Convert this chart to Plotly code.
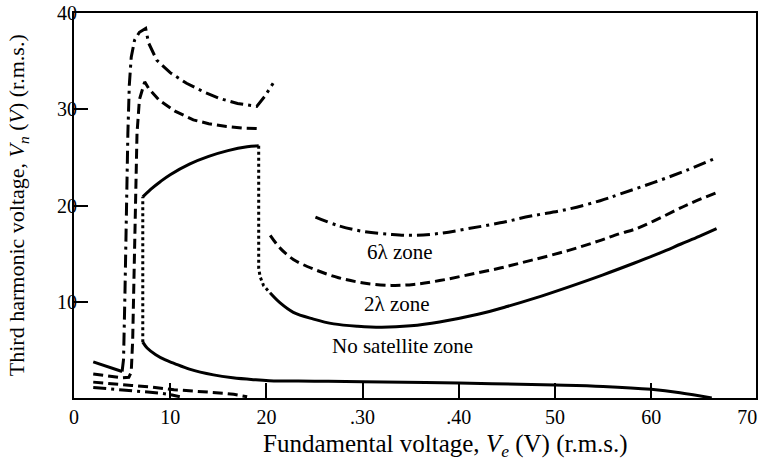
import plotly.graph_objects as go

# ---- data ----
# solid short line before the jump
pre_x = [2.0, 5.0]
pre_y = [3.75, 2.75]

# 6 lambda zone, left branch (dash-dot)
dd_left_x = [5.0, 5.15, 5.3, 5.45, 5.6, 5.75, 5.95, 6.3, 6.8, 7.45, 7.75, 8.6, 10.0, 11.7, 13.5, 15.2, 17.0, 19.0, 19.8, 20.7]
dd_left_y = [2.75, 4.0, 11.0, 20.0, 27.5, 32.5, 35.4, 37.2, 38.0, 38.4, 36.9, 35.1, 33.8, 32.7, 31.8, 31.1, 30.6, 30.3, 31.3, 32.7]

# 2 lambda zone, left branch (dashed)
da_left_x = [2.0, 3.5, 5.0, 5.7, 5.95, 6.1, 6.25, 6.4, 6.55, 6.8, 7.35, 7.8, 8.9, 10.5, 12.4, 14.0, 15.85, 17.5, 19.0]
da_left_y = [2.5, 2.3, 2.1, 2.15, 2.7, 6.0, 14.0, 22.0, 27.5, 31.0, 32.85, 32.1, 30.9, 29.8, 28.9, 28.5, 28.2, 28.05, 28.0]

# dotted connector at the first jump
dot1_x = [7.15, 7.15]
dot1_y = [5.8, 20.9]

# upper solid branch
su_x = [7.15, 8.0, 9.0, 10.0, 12.0, 14.0, 16.0, 18.0, 19.2]
su_y = [20.9, 21.7, 22.5, 23.2, 24.3, 25.1, 25.7, 26.1, 26.2]

# dotted connector at the second jump
dot2_x = [19.2, 19.2, 19.35, 19.7, 20.4]
dot2_y = [26.2, 13.5, 12.6, 11.7, 10.9]

# no-satellite boundary (solid, right)
sr_x = [20.4, 21.4, 22.8, 24.9, 27.0, 29.5, 32.0, 35.0, 38.0, 42.0, 45.0, 48.0, 51.3, 55.0, 58.2, 61.0, 63.1, 65.0, 66.8]
sr_y = [10.9, 9.9, 8.9, 8.2, 7.7, 7.45, 7.35, 7.5, 7.9, 8.7, 9.5, 10.4, 11.5, 12.8, 14.0, 15.1, 16.0, 16.8, 17.6]

# 2 lambda boundary (dashed, right)
dr_x = [20.4, 21.4, 22.8, 24.9, 27.5, 30.1, 33.0, 35.3, 38.0, 41.0, 44.3, 47.5, 51.3, 54.5, 56.8, 58.2, 60.3, 63.8, 66.7]
dr_y = [16.9, 15.6, 14.4, 13.4, 12.5, 11.95, 11.7, 11.8, 12.2, 12.8, 13.5, 14.3, 15.3, 16.3, 17.1, 17.5, 18.4, 20.1, 21.3]

# 6 lambda boundary (dash-dot, right)
ddr_x = [25.1, 27.5, 30.1, 33.0, 35.3, 38.0, 41.0, 44.3, 47.5, 51.3, 54.7, 56.8, 60.3, 63.8, 66.9]
ddr_y = [18.8, 17.9, 17.3, 17.0, 16.9, 17.1, 17.6, 18.2, 18.9, 19.6, 20.5, 21.2, 22.4, 23.7, 25.0]

# lower solid curve
sl_x = [7.15, 7.6, 8.5, 9.5, 10.4, 12.0, 14.5, 16.5, 18.7, 20.3, 25.0, 30.0, 40.0, 50.0, 55.0, 60.0, 63.0, 66.3]
sl_y = [5.8, 5.2, 4.5, 3.95, 3.6, 3.0, 2.4, 2.1, 1.9, 1.8, 1.75, 1.7, 1.55, 1.35, 1.2, 0.9, 0.55, 0.0]

# lower dashed curve
dl_x = [2.0, 4.0, 6.0, 8.0, 10.4, 12.0, 13.8, 15.5, 16.6, 18.0]
dl_y = [1.65, 1.45, 1.3, 1.15, 0.85, 0.75, 0.65, 0.5, 0.38, 0.13]

# lower dash-dot curve
ddl_x = [2.0, 4.0, 6.0, 8.0, 9.0, 10.0, 11.0]
ddl_y = [1.1, 0.95, 0.8, 0.6, 0.5, 0.35, 0.13]

# tick labels
x_tickvals = [0, 10, 20, 30, 40, 50, 60, 70]
x_ticktext = ["0", "10", "20", ".30", ".40", "50", "60", "70"]
x_tickmarks = [10, 20, 30, 40, 50, 60]
y_tickvals = [10, 20, 30, 40]

zone_labels = ["6\u03bb zone", "2\u03bb zone", "No satellite zone"]
zone_x = [33.9, 33.6, 34.2]
zone_y = [15.2, 9.8, 5.4]

# ---- styles ----
W = 3.0
DASHDOT = "13px,5px,3px,5px"
DASH = "10px,5px"
DOT = "3px,3px"
FONT = "Liberation Serif"

fig = go.Figure()


def add(x, y, dash, width=W, shape="linear"):
    fig.add_trace(go.Scatter(x=x, y=y, mode="lines", hoverinfo="skip",
                             line=dict(color="black", width=width, dash=dash, shape=shape)))


add(pre_x, pre_y, "solid")
add(dd_left_x, dd_left_y, DASHDOT)
add(da_left_x, da_left_y, DASH)
add(dot1_x, dot1_y, DOT, width=3)
add(su_x, su_y, "solid", shape="spline")
add(dot2_x, dot2_y, DOT, width=3)
add(sr_x, sr_y, "solid", shape="spline")
add(dr_x, dr_y, DASH, shape="spline")
add(ddr_x, ddr_y, DASHDOT, shape="spline")
add(sl_x, sl_y, "solid", shape="spline")
add(dl_x, dl_y, DASH)
add(ddl_x, ddl_y, DASHDOT)

for t, xx, yy in zip(zone_labels, zone_x, zone_y):
    fig.add_annotation(x=xx, y=yy, text=t, showarrow=False,
                       xanchor="center", yanchor="middle",
                       font=dict(family=FONT, size=21, color="black"))

fig.add_annotation(xref="paper", yref="paper", x=0.544, y=-0.124,
                   xanchor="center", yanchor="middle",
                   text="Fundamental voltage, <i>V<sub>e</sub></i> (V) (r.m.s.)",
                   showarrow=False, font=dict(family=FONT, size=25, color="black"))
fig.add_annotation(xref="paper", yref="paper", x=-0.082, y=0.501, textangle=-90,
                   xanchor="center", yanchor="middle",
                   text="Third harmonic voltage, <i>V<sub>n</sub></i> (<i>V</i>) (r.m.s.)",
                   showarrow=False, font=dict(family=FONT, size=22, color="black"))

fig.update_layout(
    width=762, height=461,
    margin=dict(l=74, r=6, t=13, b=63, autoexpand=False),
    paper_bgcolor="white", plot_bgcolor="white",
    showlegend=False,
    font=dict(family=FONT, color="black"),
    xaxis=dict(range=[0, 70.9], tickvals=x_tickvals, ticktext=x_ticktext,
               ticks="", showgrid=False, zeroline=False, automargin=False,
               ticklabelstandoff=0,
               minor=dict(tickvals=x_tickmarks, ticks="inside", ticklen=15,
                          tickwidth=2, tickcolor="black", showgrid=False),
               showline=True, mirror=True, linecolor="black", linewidth=2,
               tickfont=dict(family=FONT, size=20, color="black")),
    yaxis=dict(range=[0, 40], tickvals=y_tickvals, automargin=False,
               ticks="inside", ticklen=14, tickwidth=2, tickcolor="black",
               ticklabelstandoff=-9,
               showgrid=False, zeroline=False,
               showline=True, mirror=True, linecolor="black", linewidth=2,
               tickfont=dict(family=FONT, size=20, color="black")),
)

# remove the browser's default 8px body margin so the figure sits at the page origin
fig.write_html("out.html", config={"displayModeBar": False},
               post_script="document.body.style.margin='0';")
